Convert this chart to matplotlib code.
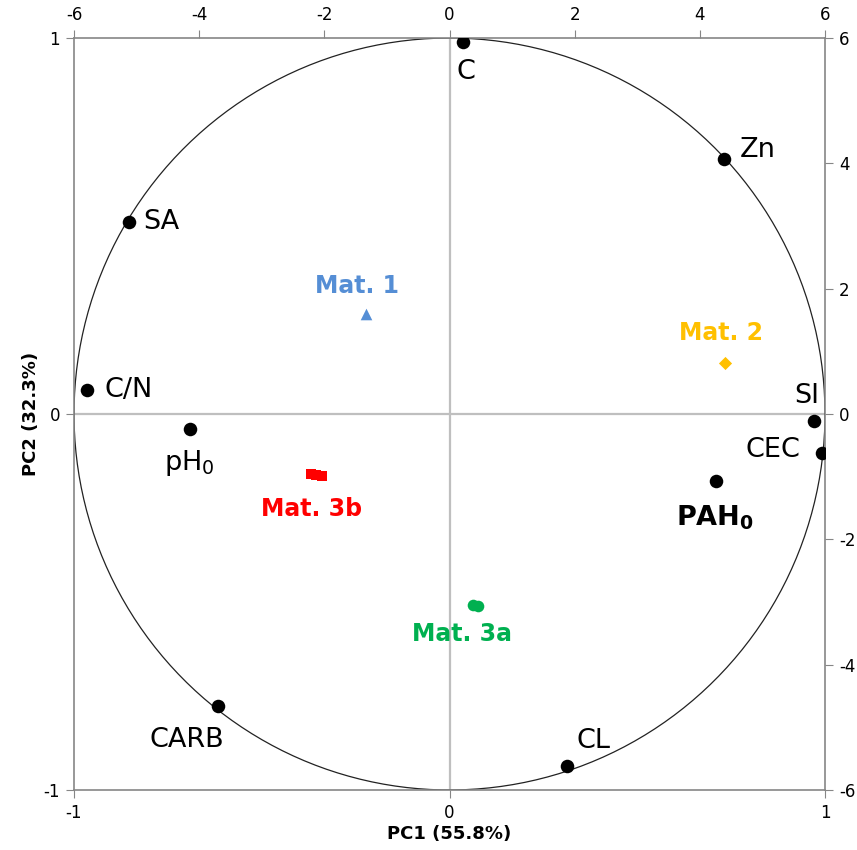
import numpy as np
import matplotlib
matplotlib.use("Agg")
import matplotlib.pyplot as plt

plt.rcParams["axes.unicode_minus"] = False

# Variable loadings (correlation circle, primary axes -1..1)
var_names = ["C", "Zn", "SA", "C/N", "pH$_0$", "SI", "CEC", r"$\mathbf{PAH_0}$", "CARB", "CL"]
var_pc1 = [0.035, 0.731, -0.853, -0.965, -0.692, 0.971, 0.991, 0.709, -0.616, 0.312]
var_pc2 = [0.990, 0.678, 0.511, 0.063, -0.039, -0.018, -0.105, -0.179, -0.777, -0.937]

# Sample scores (secondary axes -6..6)
mat1_pc1 = [-1.34]
mat1_pc2 = [1.60]
mat2_pc1 = [4.41]
mat2_pc2 = [0.82]
mat3b_pc1 = [-2.22, -2.13, -2.04]
mat3b_pc2 = [-0.95, -0.97, -0.99]
mat3a_pc1 = [0.38, 0.46]
mat3a_pc2 = [-3.05, -3.07]

# label offsets in pixels (dx, dy) relative to each point
var_offsets = [(3, -30), (34, 9), (32, 0), (41, 0), (0, -34), (-7, 25),
               (-49, 3), (-1, -36), (-31, -34), (27, 25)]

spine_col = "#868686"
zero_col = "#BFBFBF"

fig = plt.figure(figsize=(8.57, 8.5), dpi=100)
rect = [74 / 857, 60 / 850, 751 / 857, 752 / 850]
ax = fig.add_axes(rect)
ax.set_xlim(-1, 1)
ax.set_ylim(-1, 1)
ax.set_xticks([-1, 0, 1])
ax.set_yticks([-1, 0, 1])
ax.set_xticklabels(["-1", "0", "1"])
ax.set_yticklabels(["-1", "0", "1"])
for s in ax.spines.values():
    s.set_color(spine_col)
    s.set_linewidth(1.2)
ax.tick_params(direction="out", length=6, color=spine_col, labelsize=12, pad=4)

# zero lines
ax.axhline(0, color=zero_col, lw=1.6, zorder=1)
ax.axvline(0, color=zero_col, lw=1.6, zorder=1)

# unit circle
t = np.linspace(0, 2 * np.pi, 400)
ax.plot(np.cos(t), np.sin(t), color="#222222", lw=0.9, zorder=2)

ax.scatter(var_pc1, var_pc2, s=95, color="black", zorder=4, linewidths=0)
for name, x, y, (dx, dy) in zip(var_names, var_pc1, var_pc2, var_offsets):
    ax.annotate(name, (x, y), xytext=(dx, dy), textcoords="offset pixels",
                ha="center", va="center", fontsize=19.5, color="black",
                fontweight="bold" if "PAH" in name else "normal")

ax.set_xlabel("PC1 (55.8%)", fontsize=13, fontweight="bold", labelpad=2)
ax.set_ylabel("PC2 (32.3%)", fontsize=13, fontweight="bold")
ax.yaxis.set_label_coords(-0.045, 0.5)

# secondary axes for sample scores
ax2 = fig.add_axes(rect, facecolor="none")
ax2.set_xlim(-6, 6)
ax2.set_ylim(-6, 6)
ticks2 = [-6, -4, -2, 0, 2, 4, 6]
ax2.set_xticks(ticks2)
ax2.set_yticks(ticks2)
ax2.xaxis.tick_top()
ax2.yaxis.tick_right()
for s in ax2.spines.values():
    s.set_visible(False)
ax2.tick_params(direction="out", length=6, color=spine_col, labelsize=12, pad=4)

ax2.scatter(mat1_pc1, mat1_pc2, marker="^", s=70, color="#558ED5", linewidths=0, zorder=5)
ax2.scatter(mat2_pc1, mat2_pc2, marker="D", s=45, color="#FFC000", linewidths=0, zorder=5)
ax2.scatter(mat3b_pc1, mat3b_pc2, marker="s", s=60, color="#FF0000", linewidths=0, zorder=5)
ax2.scatter(mat3a_pc1, mat3a_pc2, marker="o", s=70, color="#00B050", linewidths=0, zorder=5)

mat_labels = [("Mat. 1", mat1_pc1[0], mat1_pc2[0], (-9, 28), "#558ED5"),
              ("Mat. 2", mat2_pc1[0], mat2_pc2[0], (-4, 30), "#FFC000"),
              ("Mat. 3b", mat3b_pc1[1], mat3b_pc2[1], (-5, -34), "#FF0000"),
              ("Mat. 3a", np.mean(mat3a_pc1), np.mean(mat3a_pc2), (-14, -28), "#00B050")]
for txt, x, y, (dx, dy), col in mat_labels:
    ax2.annotate(txt, (x, y), xytext=(dx, dy), textcoords="offset pixels",
                 ha="center", va="center", fontsize=17, fontweight="bold", color=col)

fig.savefig("out.png", dpi=100)
